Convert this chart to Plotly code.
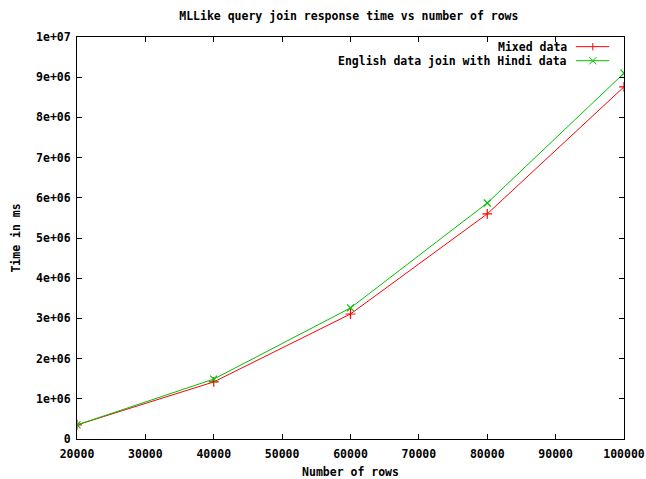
import plotly.graph_objects as go

# Rows joined and measured response time (ms)
rows = [20000, 40000, 60000, 80000, 100000]
mixed_ms = [350000, 1420000, 3110000, 5600000, 8760000]
english_hindi_ms = [350000, 1490000, 3260000, 5870000, 9100000]

series_names = ["Mixed data", "English data join with Hindi data"]
series_colors = ["#ff0000", "#00c000"]

x_ticks = [20000, 30000, 40000, 50000, 60000, 70000, 80000, 90000, 100000]
y_ticks = [0, 1e6, 2e6, 3e6, 4e6, 5e6, 6e6, 7e6, 8e6, 9e6, 1e7]
y_tick_text = ["0", "1e+06", "2e+06", "3e+06", "4e+06", "5e+06",
               "6e+06", "7e+06", "8e+06", "9e+06", "1e+07"]

FONT = dict(family="DejaVu Sans Mono", size=11.5, color="black", weight="bold")

fig = go.Figure()
fig.add_trace(go.Scatter(
    x=rows, y=mixed_ms, name=series_names[0], mode="lines+markers",
    line=dict(color=series_colors[0], width=1),
    marker=dict(symbol="cross-thin", size=7, line=dict(color=series_colors[0], width=1.2)),
))
fig.add_trace(go.Scatter(
    x=rows, y=english_hindi_ms, name=series_names[1], mode="lines+markers",
    line=dict(color=series_colors[1], width=1),
    marker=dict(symbol="x-thin", size=7, line=dict(color=series_colors[1], width=1.2)),
))

# gnuplot-style key: right-aligned text with the sample line to its right
key_rows_y = [0.976, 0.941]
shapes = []
annotations = []
for name, color, ky, sym in zip(series_names, series_colors, key_rows_y, ["+", "x"]):
    annotations.append(dict(
        xref="paper", yref="paper", x=0.899, y=ky, text=name, showarrow=False,
        xanchor="right", yanchor="middle", font=FONT,
    ))
    shapes.append(dict(type="line", xref="paper", yref="paper",
                       x0=0.912, x1=0.973, y0=ky, y1=ky,
                       line=dict(color=color, width=1)))
    cx, dx, dy = 0.943, 0.0065, 0.009
    if sym == "+":
        shapes.append(dict(type="line", xref="paper", yref="paper",
                           x0=cx, x1=cx, y0=ky - dy, y1=ky + dy,
                           line=dict(color=color, width=1)))
    else:
        shapes.append(dict(type="line", xref="paper", yref="paper",
                           x0=cx - dx, x1=cx + dx, y0=ky - dy, y1=ky + dy,
                           line=dict(color=color, width=1)))
        shapes.append(dict(type="line", xref="paper", yref="paper",
                           x0=cx - dx, x1=cx + dx, y0=ky + dy, y1=ky - dy,
                           line=dict(color=color, width=1)))

axis_common = dict(
    showgrid=False, zeroline=False, showline=True, linecolor="black", linewidth=1,
    mirror="ticks", ticks="inside", ticklen=5, tickcolor="black", tickwidth=1,
    tickfont=FONT, automargin=False,
)

fig.update_layout(
    width=646, height=479,
    margin=dict(l=77, r=22, t=37, b=40),
    paper_bgcolor="white", plot_bgcolor="white",
    showlegend=False,
    title=dict(text="MLLike query join response time vs number of rows",
               x=0.54, xanchor="center", y=0.966, yanchor="middle", font=FONT),
    xaxis=dict(range=[20000, 100000], tickvals=x_ticks, ticktext=[str(v) for v in x_ticks],
               ticklabelstandoff=4,
               title=dict(text="Number of rows", font=FONT, standoff=8), **axis_common),
    yaxis=dict(range=[0, 1e7], tickvals=y_ticks, ticktext=y_tick_text,
               ticklabelstandoff=3,
               title=dict(text="Time in ms", font=FONT, standoff=13), **axis_common),
    shapes=shapes,
    annotations=annotations,
)

fig.write_html("out.html")
